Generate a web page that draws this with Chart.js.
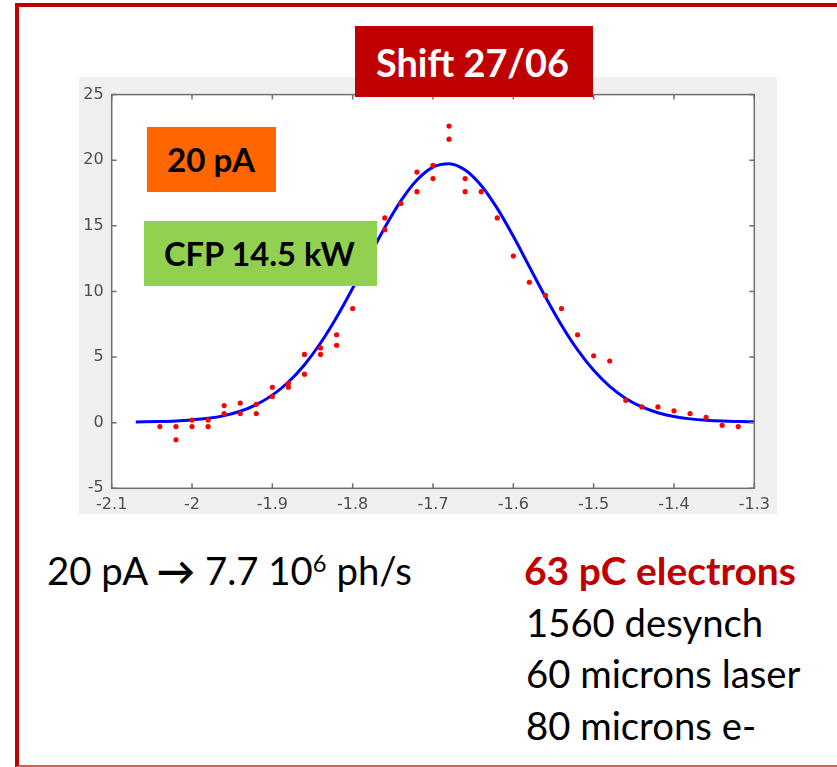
<!DOCTYPE html>
<html>
<head>
<meta charset="utf-8">
<script src="https://cdn.jsdelivr.net/npm/chart.js@4.4.1/dist/chart.umd.min.js"></script>
<style>
  html, body { margin: 0; padding: 0; background: #fff; width: 837px; height: 767px; overflow: hidden; }
  #frame { position: absolute; left: 15px; top: 3px; width: 900px; height: 758px;
           border-left: 4px solid #c00000; border-top: 4px solid #c00000; border-bottom: 2px solid #e05a5a; }
  #plot  { position: absolute; left: 79px; top: 77px; width: 698px; height: 437px; background: #f0f0f0; }
  .box   { position: absolute; }
  .lbl   { position: absolute; white-space: nowrap; font-family: Lato, "Open Sans", sans-serif; line-height: 1; }
  .lbl sup { font-size: 62%; vertical-align: 0.55em; line-height: 0; }
</style>
</head>
<body>
<div id="frame"></div>
<div id="plot"><canvas id="scan"></canvas></div>

<div class="box" style="left:355px;top:26px;width:238px;height:71px;background:#c00000"></div>
<div class="box" style="left:147px;top:127px;width:129px;height:65px;background:#ff6600"></div>
<div class="box" style="left:144px;top:221px;width:233px;height:65px;background:#92d050"></div>

<div class="lbl" data-x="376" data-b="77" data-w="193" style="font-weight:700;color:#fff">Shift 27/06</div>
<div class="lbl" data-x="167" data-b="172" data-w="88" style="font-weight:700;color:#000">20 pA</div>
<div class="lbl" data-x="164" data-b="266" data-w="191" style="font-weight:700;color:#000">CFP 14.5 kW</div>

<div class="lbl" data-x="47" data-b="585" data-w="365" style="color:#000">20 pA <b>&rarr;</b> 7.7 10<sup>6</sup> ph/s</div>
<div class="lbl" data-x="524" data-b="585" data-w="272" style="font-weight:700;color:#c00000">63 pC electrons</div>
<div class="lbl" data-x="526" data-b="637" data-w="235" data-g="r" style="color:#000">1560 desynch</div>
<div class="lbl" data-x="526" data-b="688" data-w="277" data-g="r" style="color:#000">60 microns laser</div>
<div class="lbl" data-x="526" data-b="740" data-g="r" style="color:#000">80 microns e-</div>

<script>
/* ---- measured scan points (red dots) ---- */
const ptX = [-2.04, -2.02, -2.02, -2.00, -2.00, -1.98, -1.98, -1.96, -1.96, -1.94, -1.94,
             -1.92, -1.92, -1.90, -1.90, -1.88, -1.88, -1.86, -1.86, -1.84, -1.84, -1.82, -1.82,
             -1.80, -1.76, -1.76, -1.74, -1.72, -1.72, -1.70, -1.70, -1.68, -1.68, -1.66, -1.66,
             -1.64, -1.62, -1.60, -1.58, -1.56, -1.54, -1.52, -1.50, -1.48, -1.46, -1.44, -1.42,
             -1.40, -1.38, -1.36, -1.34, -1.32];
const ptY = [-0.3, -0.3, -1.3, 0.2, -0.3, 0.2, -0.3, 1.3, 0.7, 1.5, 0.7,
             1.4, 0.7, 2.7, 2.0, 3.0, 2.7, 5.2, 3.7, 5.7, 5.2, 6.7, 5.9,
             8.7, 15.6, 14.7, 16.7, 19.1, 17.6, 19.6, 18.6, 22.6, 21.6, 18.6, 17.6,
             17.6, 15.6, 12.7, 10.7, 9.7, 8.7, 6.7, 5.1, 4.7, 1.7, 1.2, 1.2,
             0.9, 0.7, 0.4, -0.2, -0.3];

/* ---- fitted curve (blue) ---- */
const fitX = [-2.07, -2.04, -2.02, -2.00, -1.98, -1.96, -1.94, -1.92, -1.90, -1.88, -1.86,
              -1.84, -1.82, -1.80, -1.78, -1.76, -1.74, -1.72, -1.70, -1.68, -1.66, -1.64,
              -1.62, -1.60, -1.58, -1.56, -1.54, -1.52, -1.50, -1.48, -1.46, -1.44, -1.42,
              -1.40, -1.38, -1.36, -1.34, -1.32, -1.30];
const fitY = [0.06, 0.09, 0.13, 0.21, 0.33, 0.54, 0.87, 1.38, 2.10, 3.10, 4.42,
              6.07, 8.04, 10.25, 12.58, 14.87, 16.90, 18.49, 19.48, 19.74, 19.26, 18.08,
              16.33, 14.20, 11.88, 9.57, 7.42, 5.54, 3.99, 2.77, 1.85, 1.20, 0.76,
              0.47, 0.29, 0.18, 0.12, 0.09, 0.07];

/* ---- axes ---- */
const xTicks = [-2.1, -2.0, -1.9, -1.8, -1.7, -1.6, -1.5, -1.4, -1.3];
const yTicks = [-5, 0, 5, 10, 15, 20, 25];

/* white plot face + octave-style box with inward ticks */
const axesBox = {
  id: "axesBox",
  beforeDraw(chart) {
    const a = chart.chartArea, ctx = chart.ctx;
    ctx.save();
    ctx.fillStyle = "#fff";
    ctx.fillRect(a.left, a.top, a.right - a.left, a.bottom - a.top);
    ctx.restore();
  },
  afterDraw(chart) {
    const a = chart.chartArea, ctx = chart.ctx;
    const sx = chart.scales.x, sy = chart.scales.y, t = 5;
    ctx.save();
    ctx.strokeStyle = "#707070";
    ctx.lineWidth = 1.5;
    ctx.strokeRect(a.left, a.top, a.right - a.left, a.bottom - a.top);
    ctx.beginPath();
    xTicks.forEach(v => {
      const px = sx.getPixelForValue(v);
      ctx.moveTo(px, a.bottom); ctx.lineTo(px, a.bottom - t);
      ctx.moveTo(px, a.top);    ctx.lineTo(px, a.top + t);
    });
    yTicks.forEach(v => {
      const py = sy.getPixelForValue(v);
      ctx.moveTo(a.left, py);  ctx.lineTo(a.left + t, py);
      ctx.moveTo(a.right, py); ctx.lineTo(a.right - t, py);
    });
    ctx.stroke();
    ctx.restore();
  }
};

const tickFont = { family: "'DejaVu Sans', sans-serif", size: 16 };

new Chart(document.getElementById("scan"), {
  type: "scatter",
  data: {
    datasets: [
      {
        label: "data",
        data: ptX.map((x, i) => ({ x, y: ptY[i] })),
        pointRadius: 2.6,
        pointBackgroundColor: "#ff0000",
        pointBorderWidth: 0,
        order: 1
      },
      {
        label: "fit",
        data: fitX.map((x, i) => ({ x, y: fitY[i] })),
        showLine: true,
        borderColor: "#0000ff",
        borderWidth: 3,
        pointRadius: 0,
        tension: 0.4,
        cubicInterpolationMode: "monotone",
        order: 2
      }
    ]
  },
  options: {
    responsive: true,
    maintainAspectRatio: false,
    animation: false,
    layout: { padding: { top: 14.7, right: 22.7, left: 0, bottom: 0 } },
    plugins: { legend: { display: false }, tooltip: { enabled: false } },
    scales: {
      x: {
        type: "linear", min: -2.1, max: -1.3,
        afterBuildTicks: s => { s.ticks = xTicks.map(v => ({ value: v })); },
        afterFit: s => { s.height = 25.7; },
        grid: { display: false, drawTicks: false },
        border: { display: false },
        ticks: { autoSkip: false, maxRotation: 0, padding: 7, color: "#4d4d4d", font: tickFont,
                 callback: v => String(Math.round(v * 10) / 10) }
      },
      y: {
        type: "linear", min: -5, max: 25,
        afterBuildTicks: s => { s.ticks = yTicks.map(v => ({ value: v })); },
        afterFit: s => { s.width = 32.7; },
        grid: { display: false, drawTicks: false },
        border: { display: false },
        ticks: { padding: 8, color: "#4d4d4d", font: tickFont,
                 callback: v => String(v) }
      }
    }
  },
  plugins: [axesBox]
});

/* size each text to its width in the slide and sit it on its baseline;
   a group shares the mean size of its members that carry a width */
const labels = Array.from(document.querySelectorAll(".lbl"));
const groupSizes = {};
labels.forEach(el => {
  el.style.left = el.dataset.x + "px";
  el.style.top = "0px";
  el.style.fontSize = "40px";
  if (!el.dataset.w) return;
  const size = 40 * (+el.dataset.w) / el.getBoundingClientRect().width;
  el.style.fontSize = size + "px";
  if (el.dataset.g) (groupSizes[el.dataset.g] = groupSizes[el.dataset.g] || []).push(size);
});
labels.forEach(el => {
  const g = groupSizes[el.dataset.g];
  if (g) el.style.fontSize = (g.reduce((s, v) => s + v, 0) / g.length) + "px";
  const mark = document.createElement("span");
  mark.style.cssText = "display:inline-block;width:0;height:0;vertical-align:baseline";
  el.appendChild(mark);
  const b = mark.getBoundingClientRect().top;
  el.style.top = ((+el.dataset.b) - b) + "px";
});
</script>
</body>
</html>
